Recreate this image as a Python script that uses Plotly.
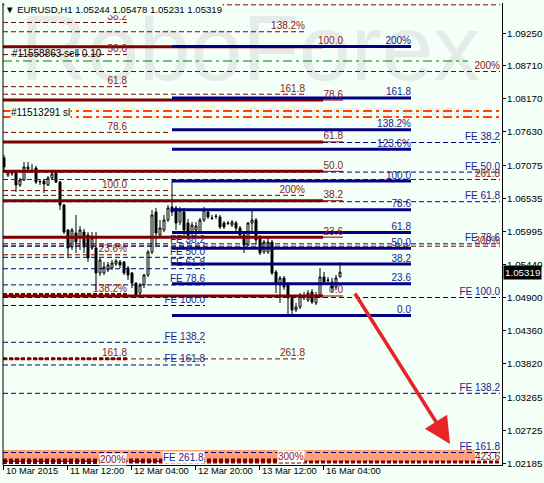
import plotly.graph_objects as go

# ---------------- data ----------------
opens = [1.07196, 1.06917, 1.06950, 1.06950, 1.06753, 1.06835, 1.07016, 1.06999, 1.07032, 1.06802,
         1.06818, 1.06753, 1.06868, 1.06950, 1.06802, 1.06424, 1.06013, 1.05734, 1.05964, 1.05898,
         1.05980, 1.05931, 1.05718, 1.05718, 1.05307, 1.05307, 1.05356, 1.05389, 1.05455, 1.05488,
         1.05488, 1.05389, 1.05307, 1.05142, 1.04978, 1.05110, 1.05274, 1.05652, 1.06309, 1.05931,
         1.06013, 1.06178, 1.06391, 1.06375, 1.06145, 1.06309, 1.06128, 1.05964, 1.06013, 1.05980,
         1.06178, 1.06309, 1.06210, 1.06243, 1.06227, 1.06128, 1.06128, 1.06095, 1.06128, 1.06046,
         1.05931, 1.05767, 1.06128, 1.06178, 1.05882, 1.05652, 1.05652, 1.05816, 1.05323, 1.05110,
         1.05225, 1.05110, 1.04896, 1.04699, 1.04748, 1.04896, 1.04863, 1.04995, 1.04814, 1.04945,
         1.05241, 1.05192, 1.05159, 1.05077, 1.05244]
highs = [1.07246, 1.06999, 1.06983, 1.06999, 1.06868, 1.07131, 1.07131, 1.07098, 1.07065, 1.06851,
         1.06835, 1.06900, 1.06966, 1.06966, 1.06818, 1.06441, 1.06030, 1.06046, 1.06260, 1.06079,
         1.06030, 1.05980, 1.05980, 1.05980, 1.05553, 1.05488, 1.05488, 1.05520, 1.05537, 1.05520,
         1.05504, 1.05422, 1.05323, 1.05150, 1.05142, 1.05290, 1.05685, 1.06342, 1.06375, 1.06178,
         1.06260, 1.06424, 1.06818, 1.06408, 1.06391, 1.06375, 1.06194, 1.06145, 1.06145, 1.06210,
         1.06391, 1.06342, 1.06260, 1.06276, 1.06260, 1.06161, 1.06161, 1.06178, 1.06161, 1.06079,
         1.05964, 1.06145, 1.06342, 1.06210, 1.05931, 1.05849, 1.05882, 1.05849, 1.05356, 1.05257,
         1.05257, 1.05142, 1.04929, 1.04814, 1.04978, 1.04995, 1.05028, 1.05044, 1.04995, 1.05389,
         1.05323, 1.05241, 1.05225, 1.05274, 1.05478]
lows = [1.06966, 1.06884, 1.06900, 1.06638, 1.06720, 1.06818, 1.06966, 1.06950, 1.06769, 1.06753,
        1.06621, 1.06736, 1.06835, 1.06786, 1.06342, 1.05948, 1.05570, 1.05685, 1.05635, 1.05685,
        1.05635, 1.05488, 1.05685, 1.05028, 1.05257, 1.05274, 1.05323, 1.05356, 1.05422, 1.05389,
        1.05274, 1.05192, 1.05060, 1.04912, 1.04912, 1.05060, 1.05241, 1.05619, 1.05767, 1.05882,
        1.05980, 1.06145, 1.06243, 1.06013, 1.06095, 1.05915, 1.05849, 1.05915, 1.05915, 1.05964,
        1.06145, 1.06194, 1.06178, 1.06194, 1.06030, 1.06030, 1.06095, 1.06063, 1.05997, 1.05898,
        1.05635, 1.05750, 1.05964, 1.05767, 1.05602, 1.05619, 1.05619, 1.05274, 1.04978, 1.04814,
        1.05028, 1.04617, 1.04609, 1.04666, 1.04715, 1.04863, 1.04830, 1.04797, 1.04781, 1.04912,
        1.05126, 1.05142, 1.04995, 1.05028, 1.05231]
closes = [1.07048, 1.06966, 1.06945, 1.06753, 1.06835, 1.07048, 1.07048, 1.06983, 1.06802, 1.06810,
          1.06769, 1.06868, 1.06933, 1.06802, 1.06424, 1.05980, 1.05718, 1.06013, 1.05816, 1.06013,
          1.05734, 1.05553, 1.05882, 1.05307, 1.05520, 1.05405, 1.05438, 1.05471, 1.05504, 1.05438,
          1.05307, 1.05274, 1.05142, 1.04945, 1.05110, 1.05274, 1.05652, 1.06260, 1.05964, 1.06046,
          1.06178, 1.06375, 1.06309, 1.06128, 1.06342, 1.06013, 1.05931, 1.06095, 1.06079, 1.06178,
          1.06342, 1.06227, 1.06205, 1.06235, 1.06063, 1.06063, 1.06120, 1.06145, 1.06046, 1.05931,
          1.05767, 1.06128, 1.06178, 1.05849, 1.05635, 1.05816, 1.05816, 1.05307, 1.05142, 1.05225,
          1.05077, 1.04896, 1.04699, 1.04748, 1.04945, 1.04929, 1.04978, 1.04830, 1.04945, 1.05241,
          1.05159, 1.05185, 1.05060, 1.05225, 1.05319]
bars = list(range(len(closes)))

x_tick_bars = [0, 16, 32, 48, 64, 80]
x_tick_labels = ["10 Mar 2015", "11 Mar 12:00", "12 Mar 04:00", "12 Mar 20:00", "13 Mar 12:00", "16 Mar 04:00"]

y_tick_values = [1.09250, 1.08710, 1.08170, 1.07630, 1.07075, 1.06535, 1.05995,
                 1.05440, 1.04900, 1.04360, 1.03820, 1.03265, 1.02725, 1.02185]
y_tick_labels = ["%.5f" % v for v in y_tick_values]

title_text = "▼ EURUSD,H1 1.05244 1.05478 1.05231 1.05319"
last_price = 1.05319

# Fibonacci tools: prices at 0% and 100%, levels, texts, time span (bars)
fibo_a_prices = [1.11130, 1.06661]
fibo_a_levels = [38.2, 50.0, 61.8, 78.6, 100.0, 123.6, 138.2, 161.8, 200.0]
fibo_a_texts = ["38.2", "50.0", "61.8", "78.6", "100.0", "23.6%", "138.2%", "161.8", "200%"]
fibo_a_span = [-0.25, 30.75]

fibo_b_prices = [1.15281, 1.10932]
fibo_b_levels = [138.2, 161.8, 200.0, 261.8, 300.0]
fibo_b_texts = ["138.2%", "161.8", "200%", "261.8", "300%"]
fibo_b_span = [-0.25, 75.25]

fibo_c_prices = [1.14357, 1.11487]
fibo_c_levels = [161.8, 200.0, 261.8, 300.0, 423.6]
fibo_c_texts = ["", "200%", "261.8", "300%", "423.6"]
fibo_c_span = [-0.25, 124.0]

fibo_d_prices = [1.04929, 1.09025]
fibo_d_levels = [0.0, 23.6, 38.2, 50.0, 61.8, 78.6, 100.0]
fibo_d_texts = ["0.0", "23.6", "38.2", "50.0", "61.8", "78.6", "100.0"]
fibo_d_span = [-0.25, 79.75]
fibo_d_label_bar = 84.75

fibo_e_prices = [1.04609, 1.06818]
fibo_e_levels = [0.0, 23.6, 38.2, 50.0, 61.8, 78.6, 100.0, 123.6, 138.2, 161.8, 200.0]
fibo_e_texts = ["0.0", "23.6", "38.2", "50.0", "61.8", "78.6", "100.0", "123.6%", "138.2%", "161.8", "200%"]
fibo_e_span = [42.0, 101.75]

fibo_f_prices = [1.06355, 1.04773]
fibo_f_levels = [38.2, 50.0, 61.8, 78.6, 100.0, 138.2, 161.8, 261.8]
fibo_f_texts = ["FE 38.2", "FE 50.0", "FE 61.8", "FE 78.6", "FE 100.0", "FE 138.2", "FE 161.8", "FE 261.8"]
fibo_f_span = [-0.25, 50.25]

fibo_g_prices = [1.09025, 1.04904]
fibo_g_levels = [38.2, 50.0, 61.8, 78.6, 100.0, 138.2, 161.8]
fibo_g_texts = ["FE 38.2", "FE 50.0", "FE 61.8", "FE 78.6", "FE 100.0", "FE 138.2", "FE 161.8"]
fibo_g_span = [-0.25, 124.0]

# order lines
sell_order_price = 1.08790
sell_order_text = "#11558863 sell 0.10"
sell_order_span = [-0.25, 116.0]
sl_prices = [1.07968, 1.07870]
sl_text = "#11513291 sl"

band_span = [-0.25, 117.75]
band_prices = [1.02201, 1.02399]

arrow_from = [87.5, 1.04995]
arrow_to = [111.5, 1.02497]

# ---------------- styling ----------------
BG = "#f4fff7"
DR = "#800000"
DRT = "#8b1a1a"
NV = "#000080"
NVT = "#1e1e8c"
FONT = "Arial, Liberation Sans, sans-serif"
THIN_DASH = "5px,3px"
THICK_DOT = "4px,2px"

fibos = [
    dict(key="A", p=fibo_a_prices, lv=fibo_a_levels, tx=fibo_a_texts, span=fibo_a_span, lab=fibo_a_span[1],
         color=DR, tcolor=DRT, width=1, dash=THIN_DASH, thick=[138.2, 161.8, 200.0], ends={78.6: 41.0, 100.0: 41.0}),
    dict(key="B", p=fibo_b_prices, lv=fibo_b_levels, tx=fibo_b_texts, span=fibo_b_span, lab=fibo_b_span[1],
         color=DR, tcolor=DRT, width=1, dash=THIN_DASH, thick=[300.0], ends={}),
    dict(key="C", p=fibo_c_prices, lv=fibo_c_levels, tx=fibo_c_texts, span=fibo_c_span, lab=fibo_c_span[1],
         color=DR, tcolor=DRT, width=1, dash=THIN_DASH, thick=[423.6], ends={}),
    dict(key="F", p=fibo_f_prices, lv=fibo_f_levels, tx=fibo_f_texts, span=fibo_f_span, lab=fibo_f_span[1],
         color=NV, tcolor=NVT, width=1, dash=THIN_DASH, thick=[], ends={}),
    dict(key="G", p=fibo_g_prices, lv=fibo_g_levels, tx=fibo_g_texts, span=fibo_g_span, lab=fibo_g_span[1],
         color=NV, tcolor=NVT, width=1, dash=THIN_DASH, thick=[], ends={}),
    dict(key="D", p=fibo_d_prices, lv=fibo_d_levels, tx=fibo_d_texts, span=fibo_d_span, lab=fibo_d_label_bar,
         color=DR, tcolor=DRT, width=3, dash="solid", thick=[], ends={}),
    dict(key="E", p=fibo_e_prices, lv=fibo_e_levels, tx=fibo_e_texts, span=fibo_e_span, lab=fibo_e_span[1],
         color=NV, tcolor=NVT, width=3, dash="solid", thick=[], ends={}),
]
boxed = {("A", 200.0): "white", ("B", 300.0): "white", ("F", 261.8): "white"}

line_groups = {}
label_groups = {}
box_labels = []


def add_seg(x0, x1, y, color, width, dash):
    xs, ys = line_groups.setdefault((color, width, dash), ([], []))
    xs += [x0, x1, None]
    ys += [y, y, None]


for f in fibos:
    p0, p100 = f["p"]
    for lv, tx in zip(f["lv"], f["tx"]):
        price = p0 + (p100 - p0) * lv / 100.0
        x0, x1 = f["span"]
        x1 = f["ends"].get(lv, x1)
        if lv in f["thick"]:
            add_seg(x0, x1, price, f["color"], 3, THICK_DOT)
        else:
            add_seg(x0, x1, price, f["color"], f["width"], f["dash"])
        if f["key"] == "D":
            add_seg(f["span"][1], f["lab"], price, f["color"], 1, "solid")
        if not tx:
            continue
        if (f["key"], lv) in boxed:
            box_labels.append((f["lab"], price, tx, f["tcolor"], boxed[(f["key"], lv)]))
        else:
            xs, ys, ts = label_groups.setdefault(f["tcolor"], ([], [], []))
            xs.append(f["lab"])
            ys.append(price)
            ts.append(tx)

fig = go.Figure()

# watermark
fig.add_trace(go.Scatter(x=[61.5], y=[1.08856], mode="text", text=["RoboForex"],
                         textfont=dict(size=93, color="#e4ebe9", family=FONT), hoverinfo="skip"))
fig.add_trace(go.Scatter(x=[90.25], y=[1.07934], mode="text", text=["ПОЛЬЗУЙ РОБОТОВ – ПОЛУЧАЙ ПРИБЫЛЬ"],
                         textfont=dict(size=11, color="#e2e9e6", family=FONT), hoverinfo="skip"))

# order lines
add_seg(sell_order_span[0], sell_order_span[1], sell_order_price, "#008000", 1, "9px,4px,3px,4px")
for p in sl_prices:
    add_seg(-0.25, 124.0, p, "#ff4500", 2, "9px,4px,3px,4px")

for (color, width, dash), (xs, ys) in line_groups.items():
    fig.add_trace(go.Scatter(x=xs, y=ys, mode="lines", line=dict(color=color, width=width, dash=dash),
                             hoverinfo="skip"))

for color, (xs, ys, ts) in label_groups.items():
    fig.add_trace(go.Scatter(x=xs, y=ys, mode="text", text=ts, textposition="top left",
                             textfont=dict(size=10, color=color, family=FONT), hoverinfo="skip"))

fig.add_trace(go.Candlestick(
    x=bars, open=opens, high=highs, low=lows, close=closes,
    increasing=dict(line=dict(color="black", width=1), fillcolor="white"),
    decreasing=dict(line=dict(color="black", width=1), fillcolor="black"),
    whiskerwidth=0, hoverinfo="skip"))

shapes = [
    dict(type="rect", xref="x", yref="y", x0=band_span[0], x1=band_span[1],
         y0=band_prices[0], y1=band_prices[1], fillcolor="#ffa07a", line=dict(width=0), layer="below"),
    dict(type="line", xref="paper", yref="paper", x0=0, x1=0, y0=0, y1=1,
         line=dict(color="black", width=1)),
]

annotations = []
for x, y, tx, col, bg in box_labels:
    annotations.append(dict(x=x, y=y, xref="x", yref="y", text=tx, showarrow=False,
                            xanchor="right", yanchor="bottom", yshift=-3, bgcolor=bg, borderpad=0,
                            font=dict(size=10, color=col, family=FONT)))

for b, lab in zip(x_tick_bars, x_tick_labels):
    annotations.append(dict(x=b - 0.25, y=0, xref="x", yref="paper", text=lab, showarrow=False,
                            xanchor="left", yanchor="top", xshift=1, yshift=1,
                            font=dict(size=9.3, color="black", family=FONT)))

for v, lab in zip(y_tick_values, y_tick_labels):
    annotations.append(dict(x=1, y=v, xref="paper", yref="y", text=lab, showarrow=False,
                            xanchor="left", yanchor="middle", xshift=3,
                            font=dict(size=9.8, color="black", family=FONT)))

annotations.append(dict(x=0.003, y=0.985, xref="paper", yref="paper", text=title_text, showarrow=False,
                        xanchor="left", yanchor="middle", bgcolor=BG, borderpad=0,
                        font=dict(size=9.6, color="black", family=FONT)))
annotations.append(dict(x=1.5, y=sell_order_price, xref="x", yref="y", text=sell_order_text,
                        showarrow=False, xanchor="left", yanchor="bottom", yshift=0,
                        font=dict(size=10, color="black", family=FONT)))
annotations.append(dict(x=1.5, y=sl_prices[0], xref="x", yref="y", text=sl_text,
                        showarrow=False, xanchor="left", yanchor="middle", yshift=-1, bgcolor=BG, borderpad=0,
                        font=dict(size=10, color="black", family=FONT)))
annotations.append(dict(x=1, y=last_price, xref="paper", yref="y", text="%.5f" % last_price,
                        showarrow=False, xanchor="left", yanchor="middle", xshift=1, bgcolor="black",
                        borderpad=1, font=dict(size=9.8, color="white", family=FONT)))
annotations.append(dict(x=arrow_to[0], y=arrow_to[1], ax=arrow_from[0], ay=arrow_from[1],
                        xref="x", yref="y", axref="x", ayref="y", text="", showarrow=True,
                        arrowhead=2, arrowsize=1.5, arrowwidth=3.5, arrowcolor="#e8232a"))

fig.update_layout(
    width=544, height=483, autosize=False,
    margin=dict(l=3, r=42, t=3, b=18, pad=0),
    paper_bgcolor=BG, plot_bgcolor=BG,
    showlegend=False,
    shapes=shapes, annotations=annotations,
    xaxis=dict(range=[-0.25, 124.5], showgrid=False, zeroline=False, showline=True, linecolor="black",
               linewidth=1, ticks="outside", ticklen=4, tickcolor="black",
               tickvals=[b - 0.25 for b in x_tick_bars], showticklabels=False,
               rangeslider=dict(visible=False), fixedrange=True),
    yaxis=dict(range=[1.021522, 1.097429], side="right", showgrid=False, zeroline=False, showline=True,
               linecolor="black", linewidth=1, ticks="outside", ticklen=3, tickcolor="black",
               tickvals=y_tick_values, showticklabels=False, fixedrange=True),
)

fig.write_html(
    "out.html",
    config={"displayModeBar": False},
    post_script="document.body.style.margin='0px';document.body.style.overflow='hidden';"
                "document.documentElement.style.background='%s';" % BG,
)
